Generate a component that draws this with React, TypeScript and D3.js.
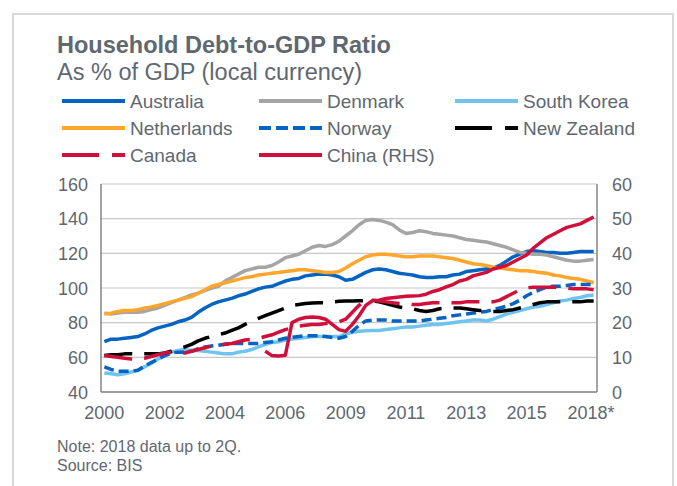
import React from "react";
import * as d3 from "d3";

const years = ["2000","2001","2002","2003","2004","2005","2006","2007","2008","2009","2010","2011","2012","2013","2014","2015","2016","2017","2018"];
const quarters = years.flatMap((y) => ["Q1","Q2","Q3","Q4"].map((q) => `${y}${q}`)).slice(0, 74);
const tickLabels = ["2000","2002","2004","2006","2009","2011","2013","2015","2018*"];
const tickEvery = 9;
const leftTicks = [40, 60, 80, 100, 120, 140, 160];
const rightTicks = [0, 10, 20, 30, 40, 50, 60];

const australia = [69,70.5,70.5,71, 71.5,72,73.5,75.5, 77,78,79,80.5, 81.5,83,86,88.5, 90.5,92,93,94, 95.5,96.5,98,99.5, 100.5,101,102.5,104, 105,105.5,107,107.5, 108,108,107.5,106.5, 104.5,105,107,109, 110.5,111,110.5,109.5, 108.5,108,107.5,106.5, 106,106,106.5,106.5, 107.5,108,109.5,110, 110.5,111,111.5,113, 115.5,118,119.5,121, 121.5,121,120.5,120.5, 120,120,120.5,121, 121,121];
const denmark = [85.5,85,85.5,86, 86,86,86.5,87.5, 88.5,90,91.5,93, 94.5,96,97,98.5, 100,101,104,106, 108,110,111,112, 112,113,115,117.5, 118.5,119.5,121.5,123.5, 124.5,124,125,127, 130,133,136.5,139, 139.5,139,138,136.5, 133.5,131.5,132,133, 132.5,131.5,131,130.5, 130,129,128,127.5, 127,126.5,125.5,124.5, 123.5,122,120.5,120, 119.5,119.5,119,118, 117,116,115.5,115.5, 116,116.5];
const southKorea = [51,50.5,50,50.5, 51.5,52.5,54.5,56.5, 59,61,63,64, 64.5,64,64,63.5, 63,62.5,62,62, 63,63.5,64.5,66, 67.5,68.5,69,70, 70.5,71,71.5,72, 72,72,72,72, 73.5,74.5,75,75.3, 75.5,75.5,76,76.5, 77,77.5,77.5,78, 78.5,79,79,79.5, 80,80.5,81,81.5, 81.5,81,82,83.5, 85,86,87,88, 89,89.5,90.5,91.5, 92.5,93,94,94.5, 95.5,96];
const netherlands = [85,85.5,86.5,87, 87,87.5,88.5,89, 90,91,92,93, 94,95,97,99, 101,102,103,104, 105,106,106.5,107.5, 108,108.5,109,109.5, 110,110.5,110.5,110, 109.5,109,109,109.5, 111.5,114,116,118, 119,119.5,119.5,119, 118.5,118,118,118.5, 118.5,118.5,118,117.5, 117,116,115,114, 113.5,113,112,111.5, 111,110.5,110,110, 109.5,109,108.5,107.5, 107,106,105.5,105, 104,103];
const norway = [54.5,53,52,52, 52,52.5,55,57, 59,61,62.5,63, 63,63.5,65,66, 66.5,67,67.5,68, 68,68,68,68, 68.5,69,70,71, 71.5,72,72.5,72.5, 72.5,72,71.5,71, 72,75,78.5,81, 81.5,81.5,81.5,81, 81,81,81,81, 81.5,82,82.5,83, 84,84.5,85,85.5, 86,86.5,87.5,88.5, 89.5,91,93,95.5, 97.5,99,100.5,101, 101,101.5,102,102, 102,102];
const newZealand = [61,61.5,61.5,62, 62,62,62,62, 62,62.5,63.5,65, 66,67.5,69.5,71, 72,73,74,75.5, 77,79,81,82.5, 84,85.5,87,88.5, 90,90.5,91,91.3, 91.5,91.5,92,92.3, 92.5,92.5,92.7,92.7, 92.5,92,91,90, 89,88.5,88,87, 86.5,87,88,88.5, 88.5,88.5,88,87.5, 87,87,86.5,86.5, 87,87.5,88.5,89.5, 90.5,91.5,92,92, 92,92,92,92, 92.5,92.5];
const canada = [61,60.5,60,59.5, 59,59,59.5,60.5, 61.5,62.5,63,62.5, 62.5,63.5,64.5,65.5, 66.5,67,67.5,68, 69,70,70.5,71, 72,73,74.5,76, 77,78,78.5,79, 79,79.5,80,80.5, 82,86,90,92.5, 93,92.5,92,91.5, 91,91,90.5,90.5, 91,91.5,91.5,91.5, 91.5,91.5,92,92, 92,92,92,93, 95,97,99,100, 100.5,100.5,100.5,100.5, 100,100,99.5,99.5, 99.5,99];
const chinaRHS: (number | null)[] = [null,null,null,null, null,null,null,null, null,null,null,null, null,null,null,null, null,null,null,null, null,null,null,null, 11.8,10.5,10.4,10.6, 20,21,21.5,21.6, 21.5,21,19.5,18, 17.5,19.5,22,25, 26.3,26.5,27,27.2, 27.4,27.6,27.7,27.8, 28.2,29,29.5,30.3, 31,32,32.5,33.5, 34,34.5,35.5,36, 36.5,37.5,38.5,39.5, 41.5,43,44.5,45.5, 46.5,47.5,48,48.5, 49.5,50.5];

type S = { name: string; values: (number | null)[]; color: string; dash?: string; legendDash?: string; right?: boolean };
const series: S[] = [
  { name: "Australia", values: australia, color: "#0563c1" },
  { name: "Denmark", values: denmark, color: "#a5a5a5" },
  { name: "South Korea", values: southKorea, color: "#6ec4ee" },
  { name: "Netherlands", values: netherlands, color: "#ffa62b" },
  { name: "Norway", values: norway, color: "#0563c1", dash: "10,5", legendDash: "12,5" },
  { name: "New Zealand", values: newZealand, color: "#000000", dash: "28,12", legendDash: "37,13" },
  { name: "Canada", values: canada, color: "#d0103a", dash: "28,12", legendDash: "37,13" },
  { name: "China (RHS)", values: chinaRHS, color: "#d0103a", right: true },
];

const legendCols = [62, 259, 455];
const legendRows = [101, 128, 155];

export default function App() {
  const left = 101, right = 597, top = 184, bottom = 392;
  const x = d3.scaleBand<string>().domain(quarters).range([left, right]);
  const cx = (i: number) => (x(quarters[i]) as number) + x.bandwidth() / 2;
  const yL = d3.scaleLinear().domain([40, 160]).range([bottom, top]);
  const yR = d3.scaleLinear().domain([0, 60]).range([bottom, top]);
  const textColor = "#5f6770";
  const font = "'Liberation Sans', Arial, sans-serif";

  return (
    <svg width={677} height={486} style={{ position: "absolute", left: 0, top: 0, background: "#fff" }} fontFamily={font}>
      <rect x={0} y={0} width={677} height={486} fill="#fff" />
      <rect x={13} y={14} width={660} height={490} fill="#fff" stroke="#d9d9d9" strokeWidth={2} />
      <text x={57} y={53} fontSize={23.5} fontWeight="bold" fill={textColor}>Household Debt-to-GDP Ratio</text>
      <text x={57} y={80} fontSize={23.5} fill={textColor}>As % of GDP (local currency)</text>
      {series.map((s, k) => {
        const col = k % 3, row = Math.floor(k / 3);
        const lx = legendCols[col], ly = legendRows[row];
        return (
          <g key={s.name}>
            <line x1={lx} x2={lx + 63} y1={ly} y2={ly} stroke={s.color} strokeWidth={4} strokeDasharray={s.legendDash} />
            <text x={lx + 68} y={ly + 6.5} fontSize={19} fill={textColor}>{s.name}</text>
          </g>
        );
      })}
      {leftTicks.map((t) => (
        <line key={t} x1={left} x2={right} y1={yL(t)} y2={yL(t)} stroke="#c8c8c8" strokeWidth={1.2} />
      ))}
      <line x1={left} x2={left} y1={top} y2={bottom} stroke="#868686" strokeWidth={1.5} />
      <line x1={right} x2={right} y1={top} y2={bottom} stroke="#868686" strokeWidth={1.5} />
      <line x1={left} x2={right} y1={bottom} y2={bottom} stroke="#868686" strokeWidth={1.5} />
      {leftTicks.map((t) => (
        <text key={t} x={88} y={yL(t) + 6.5} fontSize={18} textAnchor="end" fill={textColor}>{t}</text>
      ))}
      {rightTicks.map((t) => (
        <text key={t} x={612} y={yR(t) + 6.5} fontSize={18} fill={textColor}>{t}</text>
      ))}
      {tickLabels.map((lab, j) => (
        <text key={lab} x={cx(j * tickEvery) + (lab.endsWith("*") ? 4 : 0)} y={419} fontSize={18} textAnchor="middle" fill={textColor}>{lab}</text>
      ))}
      {series.map((s) => {
        const yS = s.right ? yR : yL;
        const gen = d3.line<number | null>()
          .defined((v) => v !== null)
          .x((_, i) => cx(i))
          .y((v) => yS(v as number));
        return (
          <path key={s.name} d={gen(s.values) || ""} fill="none" stroke={s.color} strokeWidth={3.5} strokeLinejoin="round" strokeDasharray={s.dash} />
        );
      })}
      <text x={57} y={452} fontSize={16} fill={textColor}>Note: 2018 data up to 2Q.</text>
      <text x={57} y={471} fontSize={16} fill={textColor}>Source: BIS</text>
    </svg>
  );
}
